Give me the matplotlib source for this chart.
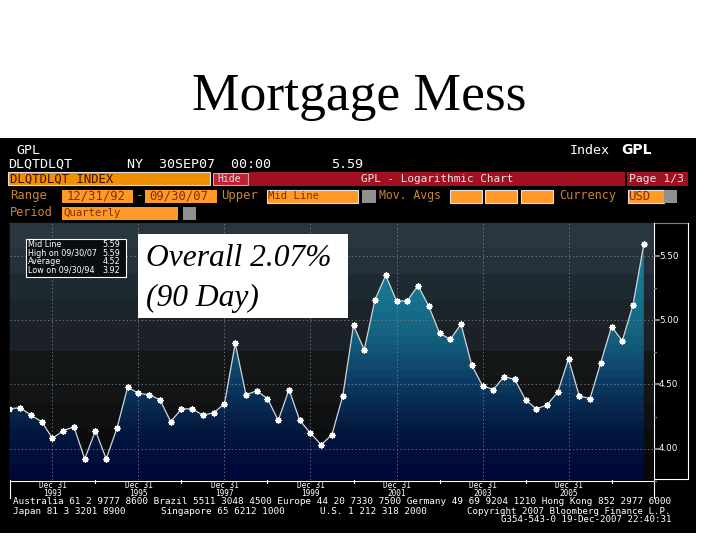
import matplotlib
matplotlib.use("Agg")
import matplotlib.pyplot as plt
from matplotlib.colors import LinearSegmentedColormap, ListedColormap
from matplotlib.patches import Rectangle, Polygon
import numpy as np

W, H = 720, 540

# quarterly, Dec 92 to Sep 07
values = [4.31, 4.32, 4.26, 4.21, 4.08, 4.14, 4.17, 3.92, 4.14, 3.92,
          4.16, 4.48, 4.43, 4.42, 4.38, 4.21, 4.31, 4.31, 4.26, 4.28,
          4.35, 4.82, 4.42, 4.45, 4.39, 4.22, 4.46, 4.22, 4.12, 4.03,
          4.11, 4.41, 4.96, 4.77, 5.16, 5.35, 5.15, 5.15, 5.27, 5.11,
          4.90, 4.85, 4.97, 4.65, 4.49, 4.46, 4.56, 4.54, 4.38, 4.31,
          4.34, 4.44, 4.70, 4.41, 4.39, 4.67, 4.95, 4.84, 5.12, 5.59]
grid_idx = [4, 12, 20, 28, 36, 44, 52]
grid_years = ["1993", "1995", "1997", "1999", "2001", "2003", "2005"]
y_ticks = [4.0, 4.5, 5.0, 5.5]
y_minor = [3.75, 4.25, 4.75, 5.25]
y_labels = ["4.00", "4.50", "5.00", "5.50"]
legend_names = ["Mid Line", "High on 09/30/07", "Average", "Low on 09/30/94"]
legend_vals = ["5.59", "5.59", "4.52", "3.92"]

ORANGE = "#ff9a28"
RED = "#a01020"
DIM = "#c88630"
MONO = "DejaVu Sans Mono"

fig = plt.figure(figsize=(7.2, 5.4), dpi=100, facecolor="white")

# whole slide in pixel coords, for the terminal chrome
bg = fig.add_axes([0, 0, 1, 1], zorder=0)
bg.set_xlim(0, W)
bg.set_ylim(H, 0)
bg.axis("off")


def box(x, y, w, h, color, edge="none", ax=bg, z=2):
    ax.add_patch(Rectangle((x, y), w, h, facecolor=color, edgecolor=edge, lw=0.8, zorder=z))


def label(x, y, s, color="white", size=8.8, ha="left", ax=bg, z=5, **kw):
    ax.text(x, y, s, color=color, fontsize=size, ha=ha, va="center", family=MONO, zorder=z, **kw)


bg.text(359, 97, "Mortgage Mess", fontsize=38.5, family="Liberation Serif", ha="center", va="center", color="black")
box(0, 138, 696, 395, "black")

label(16, 150, "GPL", size=9.6)
label(8, 164, "DLQTDLQT", size=9.6)
label(127, 164, "NY  30SEP07  00:00", size=9.6)
label(331, 164, "5.59", size=9.6)
label(570, 150, "Index", size=9.6)
bg.text(621, 150, "GPL", color="white", fontsize=10, fontweight="bold", family="DejaVu Sans", va="center", zorder=5)

box(8, 172, 202, 13, "#f09000", edge="#e0e0e0")
label(10, 179, "DLQTDLQT INDEX", color="#401000", size=8.8)
box(213, 173, 35, 12, "#c02030", edge="#e0a0a0")
label(217, 179, "Hide", color="#e0e0e0", size=7)
box(249, 172, 376, 14, RED)
label(361, 179, "GPL - Logarithmic Chart", color="#e8e8e8", size=7.9)
box(627, 172, 61, 14, RED)
label(629, 179, "Page 1/3", color="#e8e8e8", size=8.2)

label(10, 196, "Range", color=DIM)
box(62, 190, 71, 13, ORANGE)
label(67, 196, "12/31/92", color="#803000")
label(136, 196, "-", color=DIM)
box(145, 190, 72, 13, ORANGE)
label(149, 196, "09/30/07", color="#803000")
label(221, 196, "Upper", color=DIM)
box(267, 190, 91, 13, ORANGE, edge="#e0e0e0")
label(268, 196, "Mid Line", color="#803000", size=7.7)
box(362, 190, 14, 13, "#909090")
label(379, 196, "Mov. Avgs", color=DIM, size=8.3)
for x in (450, 485, 521):
    box(x, 190, 32, 13, ORANGE, edge="#e0e0e0")
label(559, 196, "Currency", color=DIM, size=8.6)
box(628, 190, 36, 13, ORANGE, edge="#e0e0e0")
label(628, 196, "USD", color="#803000")
box(664, 190, 13, 13, "#909090")
label(10, 213, "Period", color=DIM, size=8.6)
box(62, 207, 116, 13, ORANGE)
label(63, 213, "Quarterly", color="#803000", size=7.7)
box(183, 207, 13, 13, "#909090")

bg.plot([10, 688], [222.5, 222.5], color="#808080", lw=0.8, zorder=3)
bg.plot([688, 688], [223, 479], color="white", lw=0.8, zorder=3)
bg.plot([654, 654], [223, 498], color="white", lw=0.8, zorder=3)
bg.plot([654, 688], [479, 479], color="white", lw=0.8, zorder=3)
bg.plot([10, 654], [480.5, 480.5], color="white", lw=0.8, zorder=3)
bg.plot([9.5, 9.5], [223, 498], color="white", lw=0.8, zorder=3)

label(13, 502, "Australia 61 2 9777 8600 Brazil 5511 3048 4500 Europe 44 20 7330 7500 Germany 49 69 9204 1210 Hong Kong 852 2977 6000", size=6.75)
label(13, 511, "Japan 81 3 3201 8900", size=6.75)
label(161, 511, "Singapore 65 6212 1000", size=6.75)
label(320, 511, "U.S. 1 212 318 2000", size=6.75)
label(467, 511, "Copyright 2007 Bloomberg Finance L.P.", size=6.6)
label(501, 520, "G354-543-0 19-Dec-2007 22:40:31", size=6.6)

# chart axes: x is quarter index, y is the index value
ax = fig.add_axes([10 / W, 1 - 480 / H, 644 / W, 257 / H], zorder=1)
xlim = (0.05, 59.95)
ylim = (3.756, 5.757)
ax.set_xlim(*xlim)
ax.set_ylim(*ylim)
ax.set_xticks([])
ax.set_yticks([])
for s in ax.spines.values():
    s.set_visible(False)

back_cmap = ListedColormap(["#28373f", "#25323a", "#1e2a31", "#1c2329", "#1b2126",
                            "#141718", "#121415", "#0f1011", "#0b0c0c", "#080808"])
fill_cmap = LinearSegmentedColormap.from_list(
    "fill", ["#1a7f9e", "#17758f", "#145f7e", "#0b3a62", "#04183f", "#000839"])
ax.imshow(np.linspace(0, 1, 10)[:, None], cmap=back_cmap, aspect="auto",
          extent=(*xlim, ylim[0], ylim[1]), origin="upper", interpolation="nearest", zorder=0)
area = ax.imshow(np.linspace(0, 1, 28)[:, None], cmap=fill_cmap, aspect="auto",
                 extent=(*xlim, ylim[0], 5.6), origin="upper", interpolation="nearest", zorder=1)
idx = np.arange(len(values))
clip = Polygon(list(zip(idx, values)) + [(idx[-1], ylim[0]), (idx[0], ylim[0])], closed=True,
               transform=ax.transData, facecolor="none", edgecolor="none")
ax.add_patch(clip)
area.set_clip_path(clip)
ax.set_xlim(*xlim)
ax.set_ylim(*ylim)

for t in y_ticks:
    ax.axhline(t, color="#7d868c", lw=0.6, ls=(0, (1.5, 3)), zorder=2)
for i in grid_idx:
    ax.axvline(i, color="#7d868c", lw=0.6, ls=(0, (1.5, 3)), zorder=2)

ax.plot(idx, values, color="#d0d6da", lw=0.9, zorder=3)
ax.plot(idx, values, ls="none", marker=(8, 2, 0), ms=4.6, mew=0.9, color="white", zorder=4)

# tick labels on the chrome axes, placed through the chart's own scales
for t, s in zip(y_ticks, y_labels):
    yp = H - ax.transData.transform((0, t))[1]
    bg.plot([654, 659], [yp, yp], color="#a0a0a0", lw=1.2, zorder=4)
    bg.text(659, yp, s, color="white", fontsize=6.3, family="DejaVu Sans", va="center", zorder=5)
for t in y_minor:
    yp = H - ax.transData.transform((0, t))[1]
    bg.plot([654, 656], [yp, yp], color="#808080", lw=0.8, zorder=4)
for i, yr in zip(grid_idx, grid_years):
    xp = ax.transData.transform((i, 0))[0]
    label(xp, 485.5, "Dec 31", size=5.6, ha="center")
    label(xp, 494, yr, size=5.6, ha="center")
for i in [8, 16, 24, 32, 40, 48, 56]:
    xp = ax.transData.transform((i, 0))[0]
    bg.plot([xp, xp], [480, 483], color="white", lw=0.8, zorder=3)

# overlays on top of the chart
top = fig.add_axes([0, 0, 1, 1], zorder=2)
top.set_xlim(0, W)
top.set_ylim(H, 0)
top.axis("off")
box(26, 239, 100, 38, "#0a0d0f", edge="white", ax=top)
for k, (name, val) in enumerate(zip(legend_names, legend_vals)):
    yp = 244.5 + k * 8.6
    top.text(28, yp, name, color="white", fontsize=5.8, family="DejaVu Sans", va="center", zorder=5)
    top.text(120, yp, val, color="white", fontsize=5.8, family="DejaVu Sans", va="center", ha="right", zorder=5)
box(138, 234, 210, 84, "white", ax=top)
for yp, s in ((258, "Overall 2.07%"), (298, "(90 Day)")):
    top.text(146, yp, s, fontsize=22.7, style="italic", family="Liberation Serif", va="center", color="black", zorder=5)

fig.savefig("out.png", dpi=100, facecolor="white")
